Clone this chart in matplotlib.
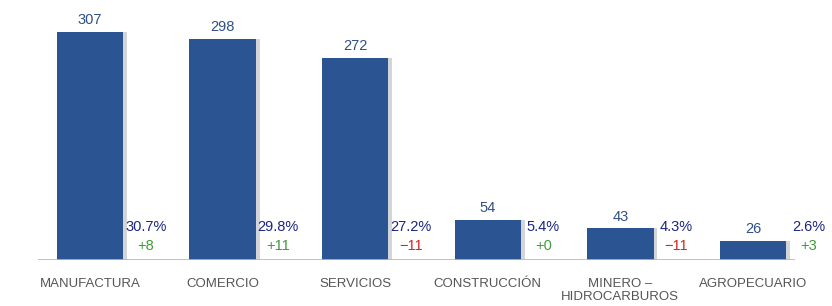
import matplotlib.pyplot as plt
import numpy as np

plt.rcParams['font.family'] = ['Liberation Sans', 'DejaVu Sans']

categorias = ['MANUFACTURA', 'COMERCIO', 'SERVICIOS', 'CONSTRUCCIÓN',
              'MINERO –\nHIDROCARBUROS', 'AGROPECUARIO']
valores = [307, 298, 272, 54, 43, 26]
porcentajes = ['30.7%', '29.8%', '27.2%', '5.4%', '4.3%', '2.6%']
cambios = [8, 11, -11, 0, -11, 3]

fig = plt.figure(figsize=(8.32, 3.06), dpi=100)
ax = fig.add_axes([38/832, 1 - 260/306, 757/832, 250/306])

x = np.arange(len(valores))
w = 0.5
# sombra gris a la derecha
ax.bar(x + 0.03, valores, width=w, color='#d3d5da', zorder=1)
ax.bar(x, valores, width=w, color='#2b5592', zorder=2)

for i, v in enumerate(valores):
    ax.text(i, v + 6, str(v), ha='center', va='bottom', fontsize=10.5, color='#2f4f86')
    ax.text(i + 0.42, 44, porcentajes[i], ha='center', va='center',
            fontsize=10.5, color='#1c2580')
    c = cambios[i]
    txt = f'+{c}' if c >= 0 else f'\u2212{abs(c)}'
    col = '#3f9a3a' if c >= 0 else '#d0281f'
    ax.text(i + 0.42, 19, txt, ha='center', va='center', fontsize=10.5, color=col)

ax.set_xlim(-0.392, 5.317)
ax.set_ylim(0, 336.5)
ax.axhline(0, color='#b8b8b8', lw=1.2, zorder=3)

ax.set_xticks(x)
ax.set_xticklabels(categorias, fontsize=9.5, color='#555555', linespacing=1.15)
ax.tick_params(axis='x', length=0, pad=13)
ax.set_yticks([])
for s in ax.spines.values():
    s.set_visible(False)

fig.savefig('out.png', dpi=100)
